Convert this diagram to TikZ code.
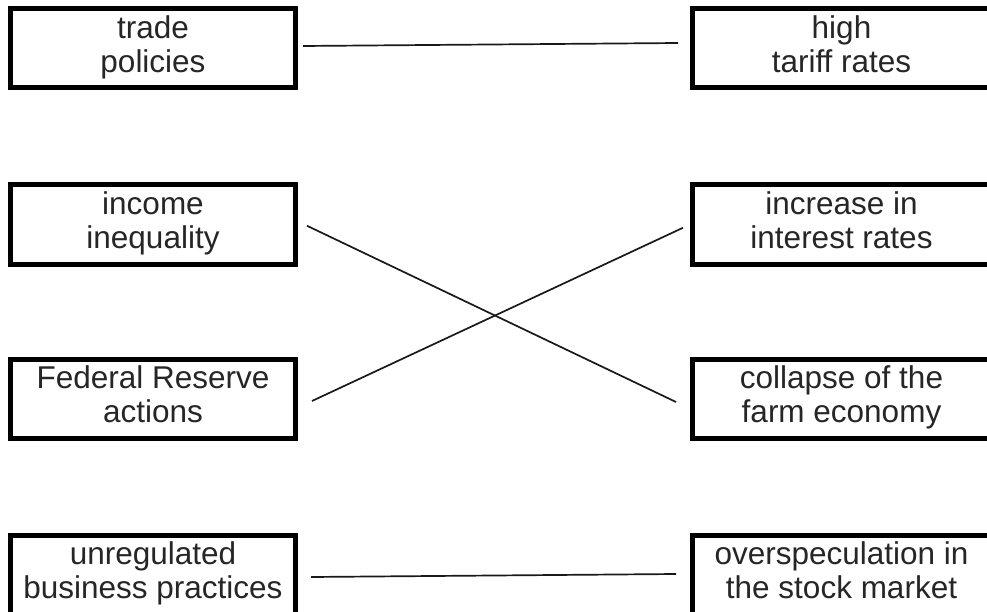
\documentclass[tikz,border=0pt]{standalone}
\usepackage{fontspec}
\setmainfont{Liberation Sans}
\usepackage{xcolor}
\usetikzlibrary{positioning,calc}
\definecolor{ink}{RGB}{38,38,38}
\definecolor{wire}{RGB}{25,25,25}
\newcommand{\twolines}[2]{\strut #1\\#2\strut}
\tikzset{
  box/.style={rectangle,draw=black,line width=5pt,fill=white,text=ink,
              minimum width=285pt,minimum height=79pt,inner sep=0pt,align=center,
              font=\fontsize{31.5pt}{34pt}\selectfont},
  rbox/.style={box,minimum width=298pt},
  link/.style={draw=wire,line width=1.7pt},
}
\begin{document}
\begin{tikzpicture}[x=1pt,y=-1pt]
  \useasboundingbox (0,0) rectangle (987,612);
  \clip (0,0) rectangle (987,612);
  % causes
  \node[box] (trade) at (153,48.5) {\twolines{trade}{policies}};
  \node[box,below=92pt of trade] (income) {\twolines{income}{inequality}};
  \node[box,below=90pt of income] (fed) {\twolines{Federal Reserve}{actions}};
  \node[box,below=92pt of fed] (unreg) {\twolines{unregulated}{business practices}};
  % effects
  \node[rbox,right=392pt of trade] (tariff) {\twolines{high}{tariff rates}};
  \node[rbox,right=392pt of income] (rates) {\twolines{increase in}{interest rates}};
  \node[rbox,right=392pt of fed] (farm) {\twolines{collapse of the}{farm economy}};
  \node[rbox,right=392pt of unreg] (spec) {\twolines{overspeculation in}{the stock market}};
  % matches
  \draw[link] ($(trade.east)+(5,-2.5)$) -- ($(tariff.west)+(-12,-5.5)$);
  \draw[link] ($(income.east)+(9,1.25)$) -- ($(farm.west)+(-14,3.5)$);
  \draw[link] ($(fed.east)+(14,2.5)$) -- ($(rates.west)+(-7,3.25)$);
  \draw[link] ($(unreg.east)+(13,2.5)$) -- ($(spec.west)+(-14,-0.5)$);
\end{tikzpicture}
\end{document}
